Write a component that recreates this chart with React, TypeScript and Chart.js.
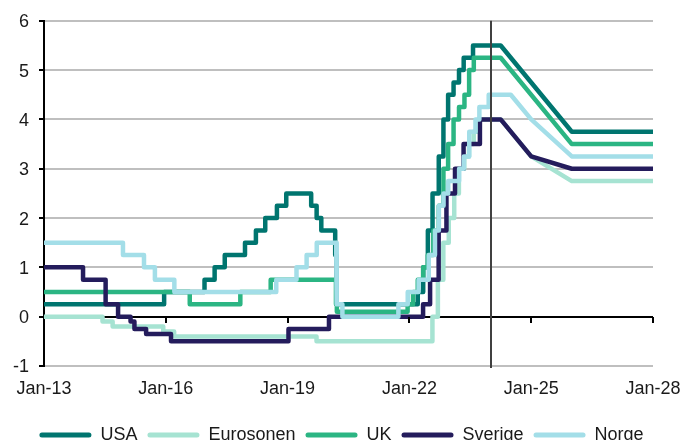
import React, { useEffect, useRef } from 'react';
import { Chart, registerables } from 'chart.js';

Chart.register(...registerables);

// ---- Data ----
const seriesNames = ['USA', 'Eurosonen', 'UK', 'Sverige', 'Norge'];
const seriesColors = ['#00756F', '#A6E3D2', '#2BB583', '#241C5C', '#A3DEE8'];
const xTickYears = [2013, 2016, 2019, 2022, 2025, 2028];
const yMin = -1;
const yMax = 6;
const markerDate = '2024-01-01';

const usaDates = ['2013-01-01', '2015-12-17', '2016-12-15', '2017-03-16', '2017-06-15', '2017-12-14', '2018-03-22', '2018-06-14', '2018-09-27', '2018-12-20', '2019-08-01', '2019-09-19', '2019-10-31', '2020-03-04', '2020-03-16', '2022-03-17', '2022-05-05', '2022-06-16', '2022-07-28', '2022-09-22', '2022-11-03', '2022-12-15', '2023-02-02', '2023-03-23', '2023-05-04', '2023-07-27'];
const usaRates = [0.25, 0.5, 0.75, 1.0, 1.25, 1.5, 1.75, 2.0, 2.25, 2.5, 2.25, 2.0, 1.75, 1.25, 0.25, 0.5, 1.0, 1.75, 2.5, 3.25, 4.0, 4.5, 4.75, 5.0, 5.25, 5.5];
const usaForecastDates = ['2024-04-01', '2026-01-01', '2028-01-01'];
const usaForecastRates = [5.5, 3.75, 3.75];

const euroDates = ['2013-01-01', '2014-06-11', '2014-09-10', '2015-12-09', '2016-03-16', '2019-09-18', '2022-07-27', '2022-09-14', '2022-11-02', '2022-12-21', '2023-02-08', '2023-03-22', '2023-05-10', '2023-06-21', '2023-08-02', '2023-09-20'];
const euroRates = [0.0, -0.1, -0.2, -0.3, -0.4, -0.5, 0.0, 0.75, 1.5, 2.0, 2.5, 3.0, 3.25, 3.5, 3.75, 4.0];
const euroForecastDates = ['2024-04-01', '2025-01-01', '2026-01-01', '2028-01-01'];
const euroForecastRates = [4.0, 3.25, 2.75, 2.75];

const ukDates = ['2013-01-01', '2016-08-04', '2017-11-02', '2018-08-02', '2020-03-11', '2020-03-19', '2021-12-16', '2022-02-03', '2022-03-17', '2022-05-05', '2022-06-16', '2022-08-04', '2022-09-22', '2022-11-03', '2022-12-15', '2023-02-02', '2023-03-23', '2023-05-11', '2023-06-22', '2023-08-03'];
const ukRates = [0.5, 0.25, 0.5, 0.75, 0.25, 0.1, 0.25, 0.5, 0.75, 1.0, 1.25, 1.75, 2.25, 3.0, 3.5, 4.0, 4.25, 4.5, 5.0, 5.25];
const ukForecastDates = ['2024-04-01', '2026-01-01', '2028-01-01'];
const ukForecastRates = [5.25, 3.5, 3.5];

const sweDates = ['2013-01-01', '2013-12-18', '2014-07-09', '2014-10-29', '2015-02-18', '2015-03-25', '2015-07-08', '2016-02-17', '2019-01-09', '2020-01-08', '2022-05-04', '2022-07-06', '2022-09-21', '2022-11-30', '2023-02-15', '2023-05-03', '2023-09-27'];
const sweRates = [1.0, 0.75, 0.25, 0.0, -0.1, -0.25, -0.35, -0.5, -0.25, 0.0, 0.25, 0.75, 1.75, 2.5, 3.0, 3.5, 4.0];
const sweForecastDates = ['2024-04-01', '2025-01-01', '2026-01-01', '2028-01-01'];
const sweForecastRates = [4.0, 3.25, 3.0, 3.0];

const norDates = ['2013-01-01', '2014-12-12', '2015-06-19', '2015-09-25', '2016-03-18', '2018-09-21', '2019-03-22', '2019-06-21', '2019-09-20', '2020-03-13', '2020-03-20', '2020-05-08', '2021-09-24', '2021-12-17', '2022-03-25', '2022-06-24', '2022-08-19', '2022-09-23', '2022-11-04', '2022-12-16', '2023-03-24', '2023-05-05', '2023-06-23', '2023-08-18', '2023-09-22', '2023-12-15'];
const norRates = [1.5, 1.25, 1.0, 0.75, 0.5, 0.75, 1.0, 1.25, 1.5, 1.0, 0.25, 0.0, 0.25, 0.5, 0.75, 1.25, 1.75, 2.25, 2.5, 2.75, 3.0, 3.25, 3.75, 4.0, 4.25, 4.5];
const norForecastDates = ['2024-07-01', '2025-01-01', '2026-01-01', '2028-01-01'];
const norForecastRates = [4.5, 4.0, 3.25, 3.25];

// ---- Helpers ----
function toYear(s: string): number {
  const [y, m, d] = s.split('-').map(Number);
  const start = Date.UTC(y, 0, 1);
  const end = Date.UTC(y + 1, 0, 1);
  return y + (Date.UTC(y, m - 1, d) - start) / (end - start);
}

function buildSeries(dates: string[], rates: number[], fDates: string[], fRates: number[]) {
  const pts: { x: number; y: number }[] = [];
  dates.forEach((d, i) => {
    const x = toYear(d);
    if (i > 0) pts.push({ x, y: rates[i - 1] });
    pts.push({ x, y: rates[i] });
  });
  fDates.forEach((d, i) => pts.push({ x: toYear(d), y: fRates[i] }));
  return pts;
}

const allSeries = [
  buildSeries(usaDates, usaRates, usaForecastDates, usaForecastRates),
  buildSeries(euroDates, euroRates, euroForecastDates, euroForecastRates),
  buildSeries(ukDates, ukRates, ukForecastDates, ukForecastRates),
  buildSeries(sweDates, sweRates, sweForecastDates, sweForecastRates),
  buildSeries(norDates, norRates, norForecastDates, norForecastRates),
];

const FONT = "'Liberation Sans', Arial, sans-serif";
const TEXT = '#1A1A1A';

const overlayPlugin = {
  id: 'overlay',
  afterDatasetsDraw(chart: any) {
    const { ctx, chartArea, scales } = chart;
    const x = scales.x;
    const y = scales.y;
    ctx.save();
    // x-axis tick marks on the zero line
    const y0 = Math.round(y.getPixelForValue(0));
    ctx.strokeStyle = '#000';
    ctx.lineWidth = 2;
    xTickYears.forEach((yr, i) => {
      if (i === 0) return;
      const px = Math.round(x.getPixelForValue(yr));
      ctx.beginPath();
      ctx.moveTo(px, y0);
      ctx.lineTo(px, y0 + 6);
      ctx.stroke();
    });
    // vertical marker line
    const mx = Math.round(x.getPixelForValue(toYear(markerDate)));
    ctx.strokeStyle = '#404040';
    ctx.lineWidth = 2;
    ctx.beginPath();
    ctx.moveTo(mx, chartArea.top);
    ctx.lineTo(mx, chartArea.bottom + 2);
    ctx.stroke();
    ctx.restore();
  },
};

export default function App() {
  const ref = useRef<HTMLCanvasElement | null>(null);

  useEffect(() => {
    if (!ref.current) return;
    const datasets = seriesNames.map((name, i) => ({
      label: name,
      data: allSeries[i],
      borderColor: seriesColors[i],
      backgroundColor: seriesColors[i],
      borderWidth: 4.5,
      pointRadius: 0,
      tension: 0,
      borderJoinStyle: 'round' as const,
      borderCapStyle: 'round' as const,
      order: seriesNames.length - 1 - i,
    }));

    const chart = new Chart(ref.current, {
      type: 'line',
      data: { datasets },
      options: {
        animation: false,
        responsive: false,
        maintainAspectRatio: false,
        layout: { padding: { top: 20, right: 0, left: 0, bottom: 0 } },
        plugins: {
          tooltip: { enabled: false },
          legend: {
            position: 'bottom',
            labels: {
              boxWidth: 52,
              boxHeight: 5,
              padding: 10,
              color: TEXT,
              font: { family: FONT, size: 18 },
              useBorderRadius: true,
              borderRadius: 2.5,
              generateLabels: (c: any) =>
                Chart.defaults.plugins.legend.labels
                  .generateLabels(c)
                  .map((l: any) => ({ ...l, lineWidth: 0 }))
                  .sort((a: any, b: any) => a.datasetIndex - b.datasetIndex),
              sort: (a: any, b: any) => a.datasetIndex - b.datasetIndex,
            },
          },
        },
        scales: {
          x: {
            type: 'linear',
            min: xTickYears[0],
            max: xTickYears[xTickYears.length - 1],
            afterFit: (s: any) => {
              s.height = 50;
            },
            afterBuildTicks: (s: any) => {
              s.ticks = xTickYears.map((v) => ({ value: v }));
            },
            grid: { display: false, drawTicks: true, tickLength: 10 },
            border: { display: false },
            ticks: {
              padding: 2,
              maxRotation: 0,
              autoSkip: false,
              color: TEXT,
              font: { family: FONT, size: 18 },
              callback: (v: any) => 'Jan-' + String(v).slice(2),
            },
          },
          y: {
            min: yMin,
            max: yMax,
            afterFit: (s: any) => {
              s.width = 44;
            },
            ticks: {
              stepSize: 1,
              padding: 10,
              labelOffset: 1.5,
              color: TEXT,
              font: { family: FONT, size: 18 },
            },
            grid: {
              color: (c: any) => (c.tick && c.tick.value === 0 ? '#000000' : '#BFBFBF'),
              lineWidth: 2,
              tickLength: 5,
              tickColor: '#000000',
              tickWidth: 2,
            },
            border: { display: true, color: '#000000', width: 2 },
          },
          // invisible spacer on the right so the plot ends where the reference does
          spacer: {
            type: 'linear',
            position: 'right',
            display: true,
            afterFit: (s: any) => {
              s.width = 30;
            },
            grid: { display: false, drawTicks: false },
            border: { display: false },
            ticks: { display: false },
          },
        },
      },
      plugins: [overlayPlugin],
    });
    return () => chart.destroy();
  }, []);

  return (
    <div style={{ position: 'fixed', left: 0, top: 0, width: 683, height: 440, overflow: 'hidden', background: '#fff' }}>
      <canvas ref={ref} width={683} height={454} style={{ display: 'block', width: 683, height: 454 }} />
    </div>
  );
}
